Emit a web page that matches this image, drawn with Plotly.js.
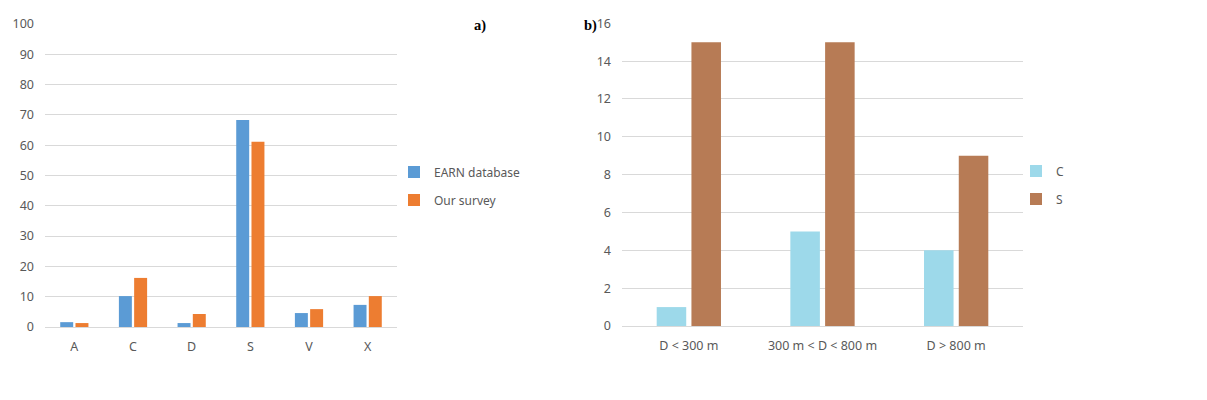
<!DOCTYPE html>
<html>
<head>
<meta charset="utf-8">
<script src="https://cdn.plot.ly/plotly-3.0.1.min.js"></script>
<style>html,body{margin:0;padding:0;background:#fff;}#chart{width:1207px;height:400px;}</style>
</head>
<body>
<div id="chart"></div>
<script>
// Panel a)
const catsA = ['A', 'C', 'D', 'S', 'V', 'X'];
const earnDatabase = [1.6, 10.2, 1.3, 68.3, 4.6, 7.3];
const ourSurvey = [1.3, 16.2, 4.3, 61.1, 5.9, 10.2];
const ticksA = [0, 10, 20, 30, 40, 50, 60, 70, 80, 90, 100];
// Panel b)
const catsB = ['D < 300 m', '300 m < D < 800 m', 'D > 800 m'];
const valuesC = [1, 5, 4];
const valuesS = [15, 15, 9];
const ticksB = [0, 2, 4, 6, 8, 10, 12, 14, 16];

const W = 1207, H = 400;
const px = v => v / W;
const py = v => 1 - v / H;
const tickFont = {family: 'Noto Sans, Liberation Sans, sans-serif', size: 12.5, color: '#595959'};

const traces = [
  {type: 'bar', x: catsA, y: earnDatabase, name: 'EARN database', marker: {color: '#5B9BD5'},
   xaxis: 'x', yaxis: 'y', legend: 'legend', legendgroup: 'g1', hoverinfo: 'none'},
  {type: 'bar', x: catsA, y: ourSurvey, name: 'Our survey', marker: {color: '#ED7D31'},
   xaxis: 'x', yaxis: 'y', legend: 'legend', legendgroup: 'g2', hoverinfo: 'none'},
  {type: 'bar', x: catsB, y: valuesC, name: 'C', marker: {color: '#9DD9EA'},
   xaxis: 'x2', yaxis: 'y2', legend: 'legend2', legendgroup: 'g3', hoverinfo: 'none'},
  {type: 'bar', x: catsB, y: valuesS, name: 'S', marker: {color: '#B77B55'},
   xaxis: 'x2', yaxis: 'y2', legend: 'legend2', legendgroup: 'g4', hoverinfo: 'none'}
];

const xCommon = {type: 'category', showgrid: false, showline: true, linecolor: '#D9D9D9', linewidth: 1,
  ticks: '', tickfont: tickFont, ticklabelstandoff: 8, zeroline: false, fixedrange: true};
const yCommon = {showgrid: true, gridcolor: '#D9D9D9', gridwidth: 1, showline: false, zeroline: false,
  ticks: '', tickfont: tickFont, ticklabelstandoff: 10, tickmode: 'array', fixedrange: true};

const legendCommon = {font: {family: 'Noto Sans, Liberation Sans, sans-serif', size: 12, color: '#595959'},
  bgcolor: 'rgba(0,0,0,0)', traceorder: 'grouped', tracegroupgap: 9, yanchor: 'middle', xanchor: 'left',
  itemclick: false, itemdoubleclick: false};

const layout = {
  width: W, height: H,
  margin: {l: 0, r: 0, t: 0, b: 0},
  paper_bgcolor: '#fff', plot_bgcolor: '#fff',
  barmode: 'group', bargap: 0.48, bargroupgap: 0.15,
  showlegend: true,
  xaxis: Object.assign({}, xCommon, {domain: [px(45), px(397)], anchor: 'y'}),
  yaxis: Object.assign({}, yCommon, {domain: [py(327), py(24)], range: [0, 100], tickvals: ticksA, anchor: 'x'}),
  xaxis2: Object.assign({}, xCommon, {domain: [px(622), px(1023)], anchor: 'y2'}),
  yaxis2: Object.assign({}, yCommon, {domain: [py(326), py(23.3)], range: [0, 16], tickvals: ticksB, anchor: 'x2'}),
  legend: Object.assign({}, legendCommon, {x: px(394), y: py(186)}),
  legend2: Object.assign({}, legendCommon, {x: px(1016), y: py(185)}),
  annotations: [
    {text: '<b>a)</b>', x: px(472), y: py(25), xref: 'paper', yref: 'paper', xanchor: 'left', yanchor: 'middle',
     showarrow: false, font: {family: 'Liberation Serif, Times New Roman, serif', size: 14.5, color: '#000'}},
    {text: '<b>b)</b>', x: px(582), y: py(25), xref: 'paper', yref: 'paper', xanchor: 'left', yanchor: 'middle',
     showarrow: false, font: {family: 'Liberation Serif, Times New Roman, serif', size: 14.5, color: '#000'}}
  ]
};

Plotly.newPlot('chart', traces, layout, {displayModeBar: false, staticPlot: true});
</script>
</body>
</html>
